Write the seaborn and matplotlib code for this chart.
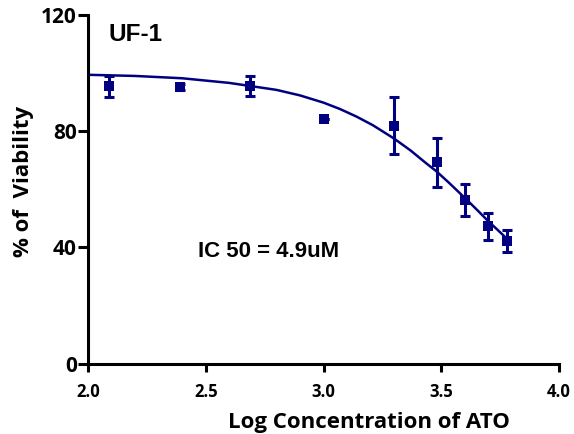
import matplotlib
matplotlib.use("Agg")
import matplotlib.pyplot as plt
import seaborn as sns
import pandas as pd

# Measured points (log concentration, % viability, SEM)
log_conc = [2.09, 2.39, 2.69, 3.00, 3.30, 3.48, 3.60, 3.70, 3.78]
viability = [95.6, 95.4, 95.6, 84.2, 82.0, 69.3, 56.4, 47.3, 42.2]
sem = [3.6, 1.0, 3.5, 0.0, 9.8, 8.4, 5.5, 4.6, 3.9]

# Fitted curve
curve_x = [2.00, 2.20, 2.40, 2.60, 2.80, 2.90, 3.00, 3.07, 3.14, 3.21, 3.30,
           3.37, 3.43, 3.48, 3.53, 3.57, 3.62, 3.66, 3.70, 3.74, 3.78]
curve_y = [99.5, 99.1, 98.3, 96.7, 94.3, 92.4, 89.9, 87.7, 85.1, 82.1, 77.5,
           73.4, 69.4, 66.2, 62.5, 59.4, 55.5, 52.3, 49.0, 46.0, 42.9]

x_ticks = [2.0, 2.5, 3.0, 3.5, 4.0]
y_ticks = [0, 40, 80, 120]

title_text = "UF-1"
ic50_text = "IC 50 = 4.9uM"
x_label = "Log Concentration of ATO"
y_label = "% of  Viability"

navy = "#000080"
sns.set_theme(style="ticks")
plt.rcParams["font.family"] = ["Open Sans", "DejaVu Sans"]
plt.rcParams["text.color"] = "black"
plt.rcParams["axes.labelcolor"] = "black"
plt.rcParams["xtick.color"] = "black"
plt.rcParams["ytick.color"] = "black"

fig = plt.figure(figsize=(5.74, 4.34), dpi=100)
ax = fig.add_axes([88 / 574, (434 - 363.5) / 434, (559 - 88) / 574, (363.5 - 15.3) / 434])

pts = pd.DataFrame({"x": log_conc, "y": viability})
crv = pd.DataFrame({"x": curve_x, "y": curve_y})

sns.lineplot(data=crv, x="x", y="y", ax=ax, color=navy, linewidth=1.8, sort=True)
ax.errorbar(log_conc, viability, yerr=sem, fmt="none", ecolor=navy,
            elinewidth=2.2, capsize=3.8, capthick=2.2, zorder=3)
sns.scatterplot(data=pts, x="x", y="y", ax=ax, color=navy, marker="s", s=45,
                edgecolor=navy, linewidth=0, zorder=4)

ax.set_xlim(2.0, 4.0)
ax.set_ylim(0, 120)
ax.set_xticks(x_ticks)
ax.set_yticks(y_ticks)
ax.set_xticklabels([f"{v:.1f}" for v in x_ticks], fontsize=12, fontweight="bold", color="black")
ax.set_yticklabels([str(v) for v in y_ticks], fontsize=15, fontweight="bold", color="black")
ax.tick_params(axis="x", length=6, width=2.2, pad=8, color="black")
ax.tick_params(axis="y", length=7, width=2.2, pad=1, color="black")
ax.set_xlabel("")
ax.set_ylabel("")
for side in ["top", "right"]:
    ax.spines[side].set_visible(False)
for side in ["left", "bottom"]:
    ax.spines[side].set_linewidth(2.2)
    ax.spines[side].set_color("black")
    ax.spines[side].set_capstyle("projecting")

ax.text(2.087, 113.5, title_text, fontsize=17.5, fontweight="bold", color="black",
        family=["Liberation Sans", "DejaVu Sans"], va="center", ha="left")
ax.text(2.468, 38.5, ic50_text, fontsize=16, fontweight="bold", color="black",
        family=["Liberation Sans", "DejaVu Sans"], va="center", ha="left")

fig.text(368.5 / 574, (434 - 428.3) / 434, x_label, fontsize=16, fontweight="bold",
         color="black", ha="center", va="baseline")
fig.text(24 / 574, (434 - 181.5) / 434, y_label, fontsize=16, fontweight="bold",
         color="black", ha="center", va="center", rotation=90)

fig.savefig("out.png", dpi=100)
